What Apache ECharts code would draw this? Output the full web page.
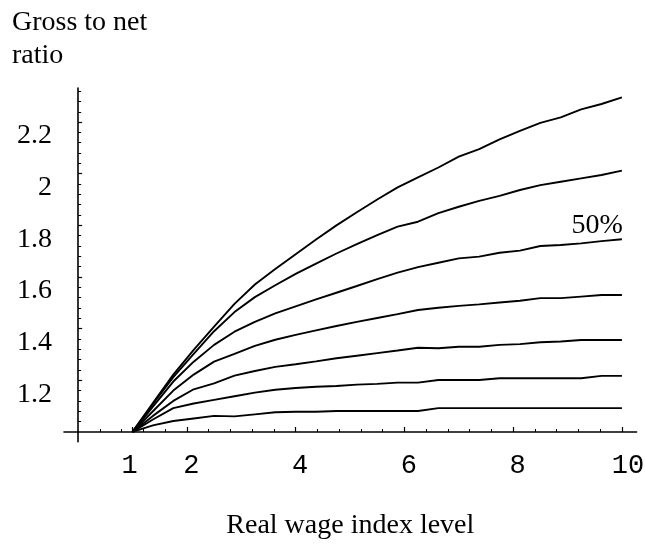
<!DOCTYPE html>
<html lang="en">
<head>
    <meta charset="UTF-8">
    <title>Gross to net ratio</title>
    <script src="https://cdn.jsdelivr.net/npm/echarts@6/dist/echarts.min.js"></script>
    <style>
        html, body { margin: 0; padding: 0; background: #fff; }
        #chart { width: 645px; height: 544px; }
    </style>
</head>
<body>
    <div id="chart"></div>
    <script>
        // real wage index level (x), sampled every 0.375
        var wageIndex = [1, 1.375, 1.75, 2.125, 2.5, 2.875, 3.25, 3.625, 4, 4.375, 4.75, 5.125, 5.5,
            5.875, 6.25, 6.625, 7, 7.375, 7.75, 8.125, 8.5, 8.875, 9.25, 9.625, 10];

        // gross to net ratio, one array per curve (top to bottom)
        var line1 = [1.000, 1.112, 1.222, 1.318, 1.408, 1.496, 1.571, 1.631, 1.688, 1.745, 1.800, 1.851, 1.900,
            1.947, 1.986, 2.024, 2.066, 2.095, 2.133, 2.166, 2.197, 2.218, 2.249, 2.270, 2.296];
        var line2 = [1.000, 1.108, 1.212, 1.302, 1.390, 1.464, 1.522, 1.568, 1.612, 1.652, 1.691, 1.727, 1.762,
            1.795, 1.814, 1.847, 1.872, 1.895, 1.914, 1.937, 1.956, 1.969, 1.982, 1.995, 2.012];
        var line3 = [1.000, 1.098, 1.195, 1.272, 1.337, 1.388, 1.426, 1.459, 1.486, 1.513, 1.539, 1.565, 1.592,
            1.617, 1.638, 1.655, 1.672, 1.679, 1.694, 1.702, 1.720, 1.724, 1.730, 1.739, 1.746];
        var line4 = [1.000, 1.080, 1.160, 1.222, 1.272, 1.302, 1.333, 1.357, 1.376, 1.393, 1.410, 1.426, 1.441,
            1.456, 1.472, 1.481, 1.488, 1.494, 1.501, 1.508, 1.518, 1.518, 1.524, 1.530, 1.530];
        var line5 = [1.000, 1.062, 1.120, 1.165, 1.188, 1.218, 1.236, 1.252, 1.262, 1.273, 1.285, 1.295, 1.305,
            1.315, 1.326, 1.324, 1.330, 1.330, 1.337, 1.340, 1.347, 1.350, 1.356, 1.356, 1.356];
        var line6 = [1.000, 1.048, 1.092, 1.110, 1.124, 1.138, 1.152, 1.163, 1.170, 1.175, 1.178, 1.183, 1.186,
            1.191, 1.191, 1.201, 1.201, 1.201, 1.208, 1.208, 1.208, 1.208, 1.208, 1.217, 1.217];
        var line7 = [1.000, 1.025, 1.042, 1.052, 1.062, 1.060, 1.068, 1.076, 1.078, 1.078, 1.081, 1.081, 1.081,
            1.081, 1.081, 1.092, 1.092, 1.092, 1.092, 1.092, 1.092, 1.092, 1.092, 1.092, 1.092];

        var lineLabel = '50%';   // label of line3

        // tick values
        var xTicks = [1, 2, 4, 6, 8, 10];
        var yTicks = [1.2, 1.4, 1.6, 1.8, 2, 2.2];

        function steps (from, to, step) {
            var out = [];
            for (var v = from; v <= to + 1e-9; v += step) {
                out.push(Math.round(v * 1000) / 1000);
            }
            return out;
        }
        var xMinorTicks = steps(0.4, 10, 0.4);
        var yMinorTicks = steps(1.04, 2.32, 0.04);

        var serif = 'Liberation Serif';
        var mono = 'Liberation Mono';

        var xMin = -0.26, xMax = 10.27;
        var yMin = 0.962, yMax = 2.332;
        var xAxisShift = -9.7;   // x axis sits on ratio 1.0

        function pairs (ys) {
            return wageIndex.map(function (x, i) { return [x, ys[i]]; });
        }

        function curve (name, ys) {
            return {
                name: name,
                type: 'line',
                data: pairs(ys),
                symbol: 'none',
                showSymbol: false,
                lineStyle: { color: '#000', width: 1.9 },
                xAxisIndex: 0,
                yAxisIndex: 0,
                z: 3
            };
        }

        var myChart = echarts.init(document.getElementById('chart'), null, { renderer: 'canvas' });

        var option = {
            backgroundColor: '#fff',
            animation: false,
            title: {
                text: 'Gross to net\nratio',
                left: 12,
                top: 5.5,
                padding: 0,
                textStyle: { fontFamily: serif, fontSize: 28, fontWeight: 'normal', color: '#000', lineHeight: 33.3 }
            },
            grid: {
                left: 64, right: 8.4, top: 88, bottom: 102.3,
                containLabel: false,
                outerBoundsMode: 'none'
            },
            xAxis: [{
                type: 'value',
                min: xMin, max: xMax,
                position: 'bottom',
                offset: xAxisShift,
                name: 'Real wage index level',
                nameLocation: 'middle',
                nameGap: 80,
                nameTextStyle: { fontFamily: serif, fontSize: 28, color: '#000', lineHeight: 28 },
                axisLine: { show: true, lineStyle: { color: '#000', width: 1.6 } },
                axisTick: { show: true, inside: true, length: 5, customValues: xTicks, lineStyle: { color: '#000', width: 1.2 } },
                axisLabel: {
                    show: true,
                    customValues: xTicks,
                    margin: 19.5,
                    formatter: function (v) {
                        if (v === 1) return '{one|1}';
                        if (v === 10) return '{ten|10}';
                        return '{n|' + v + '}';
                    },
                    rich: {
                        one: { fontFamily: mono, fontSize: 27, color: '#000', lineHeight: 28, padding: [0, 6, 0, 0] },
                        n: { fontFamily: mono, fontSize: 27, color: '#000', lineHeight: 28, padding: [0, 0, 0, 9] },
                        ten: { fontFamily: mono, fontSize: 27, color: '#000', lineHeight: 28, padding: [0, 0, 0, 12] }
                    }
                },
                splitLine: { show: false }
            }, {
                type: 'value',
                min: xMin, max: xMax,
                position: 'bottom',
                offset: xAxisShift,
                axisLine: { show: false },
                axisTick: { show: true, inside: true, length: 3, customValues: xMinorTicks, lineStyle: { color: '#000', width: 1 } },
                axisLabel: { show: false },
                splitLine: { show: false }
            }],
            yAxis: [{
                type: 'value',
                min: yMin, max: yMax,
                position: 'left',
                axisLine: { show: true, onZero: true, lineStyle: { color: '#000', width: 1.6 } },
                axisTick: { show: true, inside: true, length: 4, customValues: yTicks, lineStyle: { color: '#000', width: 1.2 } },
                axisLabel: {
                    show: true,
                    customValues: yTicks,
                    showMinLabel: true,
                    showMaxLabel: true,
                    margin: 12,
                    fontFamily: serif,
                    fontSize: 28,
                    color: '#000',
                    lineHeight: 28,
                    verticalAlign: 'top'
                },
                splitLine: { show: false }
            }, {
                type: 'value',
                min: yMin, max: yMax,
                position: 'left',
                axisLine: { show: false, onZero: true },
                axisTick: { show: true, inside: true, length: 3, customValues: yMinorTicks, lineStyle: { color: '#000', width: 1 } },
                axisLabel: { show: false },
                splitLine: { show: false }
            }],
            series: [
                curve('line1', line1),
                curve('line2', line2),
                curve('line3', line3),
                curve('line4', line4),
                curve('line5', line5),
                curve('line6', line6),
                curve('line7', line7),
                {
                    name: 'label',
                    type: 'scatter',
                    data: [[wageIndex[wageIndex.length - 1], line3[line3.length - 1]]],
                    symbolSize: 1,
                    itemStyle: { color: 'transparent' },
                    label: {
                        show: true,
                        formatter: lineLabel,
                        position: 'top',
                        align: 'right',
                        distance: 0,
                        offset: [1, 1],
                        fontFamily: serif,
                        fontSize: 28,
                        lineHeight: 28,
                        color: '#000',
                        opacity: 1,
                        textBorderWidth: 0
                    },
                    silent: true,
                    xAxisIndex: 0,
                    yAxisIndex: 0
                }
            ]
        };

        myChart.setOption(option);
    </script>
</body>
</html>
